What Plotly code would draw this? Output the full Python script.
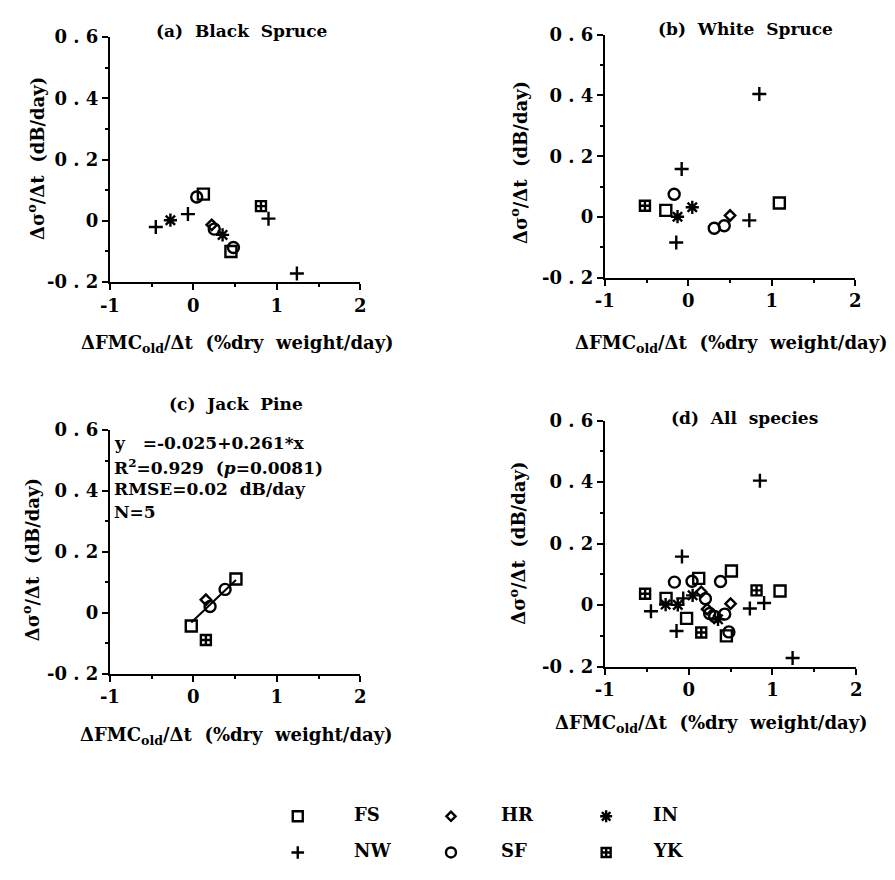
import plotly.graph_objects as go

W, H = 895, 880
FONT = "DejaVu Serif"

# ---------------- data ----------------
sites = ["FS", "HR", "IN", "NW", "SF", "YK"]

# (a) Black Spruce
bs_site = ["NW", "IN", "NW", "SF", "FS", "HR", "SF", "IN", "SF", "FS", "YK", "NW", "NW"]
bs_x = [-0.45, -0.275, -0.065, 0.04, 0.12, 0.22, 0.25, 0.35, 0.48, 0.45, 0.81, 0.90, 1.24]
bs_y = [-0.020, 0.002, 0.022, 0.078, 0.087, -0.013, -0.027, -0.046, -0.087, -0.100, 0.048, 0.007, -0.172]

# (b) White Spruce
ws_site = ["YK", "FS", "SF", "IN", "NW", "NW", "IN", "SF", "SF", "HR", "NW", "NW", "FS"]
ws_x = [-0.52, -0.27, -0.17, -0.13, -0.08, -0.145, 0.047, 0.31, 0.43, 0.50, 0.73, 0.85, 1.09]
ws_y = [0.037, 0.022, 0.075, 0.001, 0.158, -0.084, 0.032, -0.037, -0.029, 0.005, -0.011, 0.405, 0.046]

# (c) Jack Pine
jp_site = ["FS", "HR", "SF", "SF", "FS", "YK"]
jp_x = [-0.025, 0.15, 0.20, 0.38, 0.51, 0.15]
jp_y = [-0.043, 0.043, 0.021, 0.077, 0.111, -0.089]

# regression for Jack Pine
fit_intercept = -0.025
fit_slope = 0.261
fit_r2 = 0.929
fit_p = 0.0081
fit_rmse = 0.02
fit_n = 5
fit_x = [-0.025, 0.51]

x_ticks = [-1, 0, 1, 2]
y_ticks = [-0.2, 0, 0.2, 0.4, 0.6]
y_ticktext = ["-0\u00a0.\u00a02", "0", "0\u00a0.\u00a02", "0\u00a0.\u00a04", "0\u00a0.\u00a06"]

# ---------------- styles ----------------
sym = {"FS": "square-open", "HR": "diamond-open", "IN": "asterisk-open",
       "NW": "cross-thin-open", "SF": "circle-open", "YK": "square-cross-open"}
size = {"FS": 11, "HR": 8, "IN": 11, "NW": 10, "SF": 11, "YK": 10}
LW = 2.4


def px(x):
    return x / W


def py(y):
    return 1 - y / H


fig = go.Figure()

panels = [
    ("x", "y", [(bs_site, bs_x, bs_y)]),
    ("x2", "y2", [(ws_site, ws_x, ws_y)]),
    ("x3", "y3", [(jp_site, jp_x, jp_y)]),
    ("x4", "y4", [(bs_site, bs_x, bs_y), (ws_site, ws_x, ws_y), (jp_site, jp_x, jp_y)]),
]

for xa, ya, groups in panels:
    for s in sites:
        xs, ys = [], []
        for st, gx, gy in groups:
            for k, v in enumerate(st):
                if v == s:
                    xs.append(gx[k])
                    ys.append(gy[k])
        if not xs:
            continue
        fig.add_trace(go.Scatter(
            x=xs, y=ys, mode="markers", xaxis=xa, yaxis=ya, showlegend=False,
            marker=dict(symbol=sym[s], size=size[s], color="black",
                        line=dict(color="black", width=LW)),
            cliponaxis=False, hoverinfo="skip"))

# regression line in (c)
fig.add_trace(go.Scatter(
    x=fit_x, y=[fit_intercept + fit_slope * v for v in fit_x], mode="lines",
    xaxis="x3", yaxis="y3", showlegend=False, line=dict(color="black", width=2),
    hoverinfo="skip"))

# custom legend (own hidden pixel axis)
leg_order = [["FS", "HR", "IN"], ["NW", "SF", "YK"]]
leg_col_px = [293, 449, 607]
leg_txt_px = [348, 498, 653]
leg_row_px = [825, 862]
for r, row in enumerate(leg_order):
    for c, s in enumerate(row):
        fig.add_trace(go.Scatter(
            x=[leg_col_px[c]], y=[leg_row_px[r]], mode="markers", xaxis="x5", yaxis="y5",
            showlegend=False, hoverinfo="skip",
            marker=dict(symbol=sym[s], size=size[s] - 1, color="black",
                        line=dict(color="black", width=LW))))

tickfont = dict(family=FONT, size=18, color="black", weight="bold")

# panel pixel boxes: (left, right, top, bottom)
boxes = {
    "": (101.7, 356.7, 26.7, 277.7),
    "2": (605.7, 860.7, 24.3, 273.3),
    "3": (101.7, 356.7, 429.3, 679.0),
    "4": (605.7, 861.7, 419.7, 671.7),
}

layout = dict(
    width=W, height=H, margin=dict(l=0, r=0, t=0, b=0),
    paper_bgcolor="white", plot_bgcolor="rgba(0,0,0,0)", showlegend=False,
)
for k, (l, r, t, b) in boxes.items():
    layout["xaxis" + k] = dict(
        domain=[px(l), px(r)], range=[-1, 2], anchor="y" + k,
        tickvals=x_ticks, ticktext=[str(v) for v in x_ticks],
        ticks="outside", ticklen=6, tickwidth=2, tickcolor="black",
        showline=True, linewidth=2, linecolor="black", showgrid=False, zeroline=False,
        tickfont=tickfont, fixedrange=True,
        minor=dict(tickvals=[-0.5, 0.5, 1.5], ticks="outside", ticklen=3,
                   tickwidth=1.5, tickcolor="black", showgrid=False))
    layout["yaxis" + k] = dict(
        domain=[py(b), py(t)], range=[-0.2, 0.6], anchor="x" + k,
        tickvals=y_ticks, ticktext=y_ticktext,
        ticks="outside", ticklen=6, tickwidth=2, tickcolor="black",
        showline=True, linewidth=2, linecolor="black", showgrid=False, zeroline=False,
        tickfont=tickfont, fixedrange=True,
        minor=dict(tickvals=[-0.1, 0.1, 0.3, 0.5], ticks="outside", ticklen=3,
                   tickwidth=1.5, tickcolor="black", showgrid=False))

layout["xaxis5"] = dict(domain=[0, 1], range=[0, W], visible=False, anchor="y5", fixedrange=True)
layout["yaxis5"] = dict(domain=[0, 1], range=[H, 0], visible=False, anchor="x5", fixedrange=True)

fig.update_layout(**layout)

afont = dict(family=FONT, size=17, color="black", weight="bold")


def ann(text, x, y, xanchor="center", angle=0, size=17):
    fig.add_annotation(text=text, x=px(x), y=py(y), xref="paper", yref="paper",
                       xanchor=xanchor, yanchor="middle", showarrow=False,
                       textangle=angle, font=dict(afont, size=size))


# panel titles
ann("(a)\u00a0 Black\u00a0 Spruce", 236, 21)
ann("(b)\u00a0 White\u00a0 Spruce", 749, 18)
ann("(c)\u00a0 Jack\u00a0 Pine", 230, 403)
ann("(d)\u00a0 All\u00a0 species", 748, 417)

xtitle = "\u0394FMC<sub>old</sub>/\u0394t\u00a0 (%dry\u00a0 weight/day)"
ytitle = "\u0394\u03c3<sup>o</sup>/\u0394t\u00a0 (dB/day)"
ann(xtitle, 232, 341, size=18)
ann(xtitle, 735, 341, size=18)
ann(xtitle, 231, 743, size=18)
ann(xtitle, 714, 730, size=18)
ann(ytitle, 27, 151, angle=-90, size=18)
ann(ytitle, 519, 155, angle=-90, size=18)
ann(ytitle, 21, 562, angle=-90, size=18)
ann(ytitle, 517, 545, angle=-90, size=18)

# regression statistics in (c)
ann(f"y\u00a0\u00a0\u00a0={fit_intercept:.3f}+{fit_slope:.3f}*x", 104, 443, xanchor="left")
ann(f"R<sup>2</sup>={fit_r2:.3f}\u00a0 (<i>p</i>={fit_p:.4f})", 104, 467, xanchor="left")
ann(f"RMSE={fit_rmse:.2f}\u00a0 dB/day", 104, 490, xanchor="left")
ann(f"N={fit_n}", 104, 513, xanchor="left")

# legend labels
for r, row in enumerate(leg_order):
    for c, s in enumerate(row):
        ann(s, leg_txt_px[c], leg_row_px[r] - 2, xanchor="left", size=18)

fig.write_html("out.html", config={"displayModeBar": False})
